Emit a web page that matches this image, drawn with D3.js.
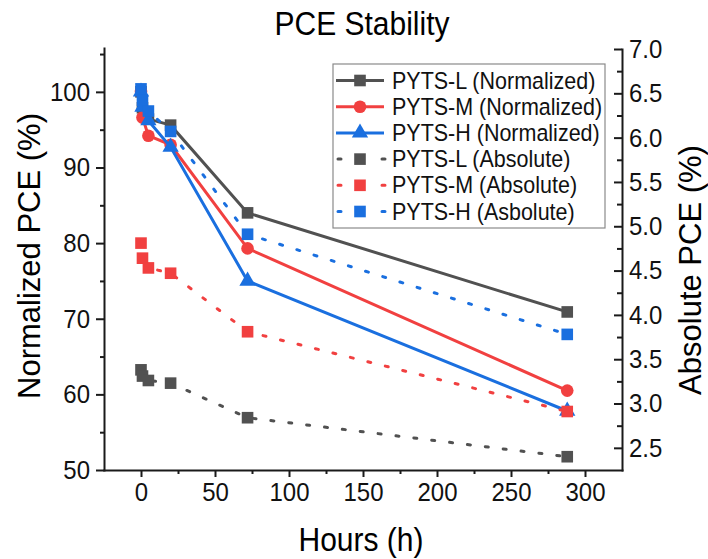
<!DOCTYPE html>
<html>
<head>
<meta charset="utf-8">
<title>PCE Stability</title>
<style>
  body { margin: 0; background: #fff; }
  svg { font-family: "Liberation Sans", Arial, sans-serif; }
  .axis path, .axis line { stroke: #1a1a1a; stroke-width: 2; }
  .axis text { font-size: 24px; fill: #111; }
  .tall { transform-box: fill-box; transform-origin: center; transform: scaleY(1.08); }
</style>
</head>
<body>
<div id="chart"></div>
<script src="https://cdn.jsdelivr.net/npm/d3@7"></script>
<script>
// data
var hours = [0, 1, 5, 20, 72, 288];
var normL = [100, 97.9, 96.4, 95.6, 84.0, 70.9];
var normM = [100, 96.6, 94.2, 93.0, 79.3, 60.5];
var normH = [100, 98.0, 96.2, 92.7, 75.0, 57.8];
var absL = [3.38, 3.31, 3.26, 3.23, 2.84, 2.40];
var absM = [4.81, 4.64, 4.53, 4.47, 3.81, 2.91];
var absH = [6.55, 6.42, 6.30, 6.07, 4.91, 3.78];

var xTicks = [0, 50, 100, 150, 200, 250, 300];
var yLeftTicks = [50, 60, 70, 80, 90, 100];
var yRightTicks = [2.5, 3.0, 3.5, 4.0, 4.5, 5.0, 5.5, 6.0, 6.5, 7.0];

var width = 708, height = 559;
var gray = "#515151", red = "#F14040", blue = "#1A6FDF";

var series = [
  {name: "PYTS-L (Normalized)", vals: normL, axis: "L", color: gray, marker: "square", dotted: false},
  {name: "PYTS-M (Normalized)", vals: normM, axis: "L", color: red, marker: "circle", dotted: false},
  {name: "PYTS-H (Normalized)", vals: normH, axis: "L", color: blue, marker: "triangle", dotted: false},
  {name: "PYTS-L (Absolute)", vals: absL, axis: "R", color: gray, marker: "square", dotted: true},
  {name: "PYTS-M (Absolute)", vals: absM, axis: "R", color: red, marker: "square", dotted: true},
  {name: "PYTS-H (Asbolute)", vals: absH, axis: "R", color: blue, marker: "square", dotted: true}
];

var x = d3.scaleLinear().domain([-25, 325]).range([104, 622]);
var yL = d3.scaleLinear().domain([50, 105.8]).range([470, 48]);
var yR = d3.scaleLinear().domain([2.25, 7.0]).range([470, 49]);

var svg = d3.select("#chart").append("svg")
  .attr("width", width).attr("height", height);

// axes
svg.append("g").attr("class", "axis").attr("transform", "translate(0,470)")
  .call(d3.axisBottom(x).tickValues(xTicks).tickSize(7).tickSizeOuter(0).tickPadding(6));
svg.append("g").attr("class", "axis").attr("transform", "translate(0,470)")
  .call(d3.axisBottom(x).tickValues([25, 75, 125, 175, 225, 275]).tickSize(4).tickFormat(""))
  .select(".domain").remove();

svg.append("g").attr("class", "axis").attr("transform", "translate(104,0)")
  .call(d3.axisLeft(yL).tickValues(yLeftTicks).tickSize(8).tickSizeOuter(0).tickPadding(6));
svg.append("g").attr("class", "axis").attr("transform", "translate(104,0)")
  .call(d3.axisLeft(yL).tickValues([55, 65, 75, 85, 95, 105]).tickSize(4).tickFormat(""))
  .select(".domain").remove();

svg.append("g").attr("class", "axis").attr("transform", "translate(622,0)")
  .call(d3.axisRight(yR).tickValues(yRightTicks).tickSize(-8).tickSizeOuter(0).tickPadding(7)
    .tickFormat(d3.format(".1f")));
svg.append("g").attr("class", "axis").attr("transform", "translate(622,0)")
  .call(d3.axisRight(yR).tickValues([2.75, 3.25, 3.75, 4.25, 4.75, 5.25, 5.75, 6.25, 6.75]).tickSize(-5).tickFormat(""))
  .select(".domain").remove();
svg.selectAll(".axis .domain").attr("stroke-linecap", "square");
svg.selectAll(".axis text").classed("tall", true);

// titles
svg.append("text").attr("class", "tall").attr("x", 362).attr("y", 34).attr("text-anchor", "middle")
  .style("font-size", "30px").text("PCE Stability");
svg.append("text").attr("class", "tall").attr("x", 361).attr("y", 550).attr("text-anchor", "middle")
  .style("font-size", "30px").text("Hours (h)");
svg.append("text").attr("transform", "translate(40,256) rotate(-90)").attr("text-anchor", "middle")
  .style("font-size", "31px").text("Normalized PCE (%)");
svg.append("text").attr("transform", "translate(701,270) rotate(-90)").attr("text-anchor", "middle")
  .style("font-size", "31px").text("Absolute PCE (%)");

// markers
var sym = {
  square: d3.symbol().type(d3.symbolSquare).size(135),
  circle: d3.symbol().type(d3.symbolCircle).size(125),
  triangle: d3.symbol().type(d3.symbolTriangle).size(115)
};

function drawMarker(g, s, px, py) {
  g.append("path").attr("d", sym[s.marker]())
    .attr("transform", "translate(" + px + "," + py + ")")
    .attr("fill", s.color);
}

var plot = svg.append("g");
series.forEach(function (s) {
  var y = s.axis === "L" ? yL : yR;
  var pts = hours.map(function (h, i) { return [h, s.vals[i]]; });
  var line = d3.line().x(function (d) { return x(d[0]); }).y(function (d) { return y(d[1]); });
  var p = plot.append("path").datum(pts).attr("d", line)
    .attr("fill", "none").attr("stroke", s.color).attr("stroke-width", 3);
  if (s.dotted) p.attr("stroke-dasharray", "3 15").attr("stroke-linecap", "round");
  pts.forEach(function (d) { drawMarker(plot, s, x(d[0]), y(d[1])); });
});

// legend
var lg = svg.append("g");
lg.append("rect").attr("x", 333).attr("y", 64).attr("width", 272).attr("height", 164)
  .attr("fill", "#fff").attr("stroke", "#8a8a8a").attr("stroke-width", 1.2);
series.forEach(function (s, i) {
  var cy = 80.5 + i * 26.2;
  var l = lg.append("line").attr("x1", 336).attr("x2", 384).attr("y1", cy).attr("y2", cy)
    .attr("stroke", s.color).attr("stroke-width", 3);
  if (s.dotted) l.attr("stroke-dasharray", "3 19").attr("stroke-linecap", "round").attr("x1", 338).attr("x2", 386);
  drawMarker(lg, s, 360, cy);
  lg.append("text").attr("class", "tall").attr("x", 392).attr("y", cy + 7.5)
    .style("font-size", "21.5px").attr("fill", "#111").text(s.name);
});
</script>
</body>
</html>
